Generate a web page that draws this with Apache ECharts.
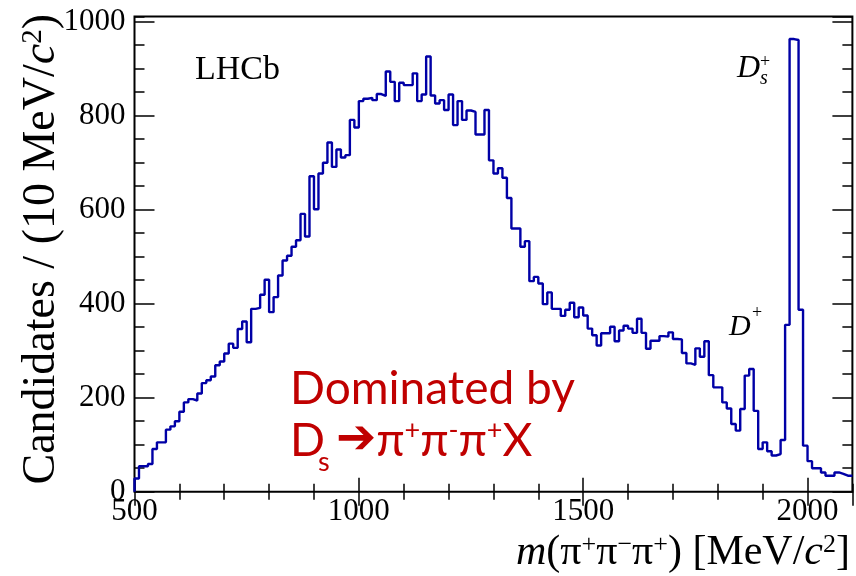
<!DOCTYPE html>
<html>
<head>
<meta charset="utf-8">
<script src="https://cdn.jsdelivr.net/npm/echarts@6/dist/echarts.min.js"></script>
<style>
html,body{margin:0;padding:0;background:#fff;}
#chart{width:856px;height:576px;}
</style>
</head>
<body>
<div id="chart"></div>
<script>
//直方图数据：每个bin 10 MeV，从500到2100
var binStart = 500;
var binWidth = 10;
var counts500to900 = [28,54,54,59,91,105,105,132,139,150,170,190,197,194,209,231,237,245,269,277,
	294,315,306,346,362,318,389,391,419,451,382,414,460,492,502,521,535,591,543,671];
var counts900to1300 = [601,677,700,743,691,728,711,716,791,775,831,836,838,833,846,842,894,872,831,870,
	865,865,890,831,845,926,843,826,833,812,845,780,831,791,811,808,760,760,812,705];
var counts1300to1700 = [677,688,668,625,560,560,521,533,448,457,443,399,424,389,389,374,387,402,371,392,
	375,347,333,311,337,337,351,320,343,353,347,338,368,338,304,321,321,331,330,339];
var counts1700to2100 = [325,324,295,273,270,305,287,320,248,222,222,190,177,144,130,176,247,261,172,91,
	105,86,77,80,110,355,963,961,387,98,65,50,50,41,34,34,41,38,34,34];
//坐标轴范围
var xMin = 500, xMax = 2100;
var yMin = 0, yMax = 1011;

var counts = counts500to900.concat(counts900to1300, counts1300to1700, counts1700to2100);
//阶梯线的点：bin下边界 + 数值
var steps = [[binStart, 0]];
counts.forEach(function(v, i){
	steps.push([binStart + i * binWidth, v]);
});
steps.push([binStart + counts.length * binWidth, counts[counts.length - 1]]);

var serif = '"Liberation Serif","Times New Roman",serif';
var tickStyle = {color:'#000', width:1.5};

//生成坐标轴（主刻度/次刻度，上下左右镜像）
function makeAxis(pos, min, max, interval, len, label){
	return {
		type:'value', position:pos, min:min, max:max, interval:interval,
		axisLine:{show:false},
		splitLine:{show:false},
		axisTick:{show:true, inside:true, length:len, lineStyle:tickStyle},
		axisLabel:{show:label, showMaxLabel:false, color:'#000', fontFamily:serif, fontSize:31,
			margin:(pos == 'bottom' ? 5 : 9),
			formatter:function(v){ return String(v); }}
	};
}

var chart = echarts.init(document.getElementById('chart'));
chart.setOption({
	animation:false,
	backgroundColor:'#fff',
	grid:{left:134.5, right:3.6, top:16.5, bottom:84.3, show:true, borderColor:'#000', borderWidth:2,
		backgroundColor:'transparent'},
	xAxis:[
		makeAxis('bottom', xMin, xMax, 500, 14, true),
		makeAxis('bottom', xMin, xMax, 100, 8, false),
		makeAxis('top', xMin, xMax, 500, 14, false),
		makeAxis('top', xMin, xMax, 100, 8, false)
	],
	yAxis:[
		makeAxis('left', yMin, yMax, 200, 20, true),
		makeAxis('left', yMin, yMax, 50, 10, false),
		makeAxis('right', yMin, yMax, 200, 20, false),
		makeAxis('right', yMin, yMax, 50, 10, false)
	],
	series:[{
		type:'line',
		step:'end',
		xAxisIndex:0,
		yAxisIndex:0,
		data:steps,
		showSymbol:false,
		symbol:'none',
		lineStyle:{color:'#0000a6', width:2.4},
		z:5
	}],
	graphic:[
		//y轴标题
		{type:'text', x:42, y:14, rotation:Math.PI/2,
			style:{text:'{n|Candidates / (10 MeV/}{i|c}{s|2}{n|)}', align:'right', verticalAlign:'middle', fill:'#000',
				rich:{n:{fontFamily:serif, fontSize:46}, i:{fontFamily:serif, fontSize:46, fontStyle:'italic'},
					s:{fontFamily:serif, fontSize:29, verticalAlign:'top', lineHeight:33}}}},
		//x轴标题
		{type:'text', x:850, y:553,
			style:{text:'{i|m}{n|(π}{s|+}{n|π}{s|−}{n|π}{s|+}{n|) [MeV/}{i|c}{s|2}{n|]}', align:'right', verticalAlign:'middle', fill:'#000',
				rich:{n:{fontFamily:serif, fontSize:42}, i:{fontFamily:serif, fontSize:42, fontStyle:'italic'},
					s:{fontFamily:serif, fontSize:26, verticalAlign:'top', lineHeight:30}}}},
		{type:'text', x:195, y:70, style:{text:'LHCb', font:'34px ' + serif, fill:'#000', verticalAlign:'middle'}},
		//峰的标注
		{type:'text', x:737, y:69, style:{text:'D', font:'italic 32px ' + serif, fill:'#000', verticalAlign:'middle'}},
		{type:'text', x:760, y:62, style:{text:'+', font:'18px ' + serif, fill:'#000', verticalAlign:'middle'}},
		{type:'text', x:760, y:79, style:{text:'s', font:'italic 20px ' + serif, fill:'#000', verticalAlign:'middle'}},
		{type:'text', x:729, y:327, style:{text:'D', font:'italic 30px ' + serif, fill:'#000', verticalAlign:'middle'}},
		{type:'text', x:752, y:313, style:{text:'+', font:'18px ' + serif, fill:'#000', verticalAlign:'middle'}},
		//红色说明文字
		{type:'text', x:290, y:389, style:{text:'Dominated by', font:'46px Lato', fill:'#c00000', verticalAlign:'middle'}},
		{type:'text', x:290, y:441, style:{text:'D', font:'46px Lato', fill:'#c00000', verticalAlign:'middle'}},
		{type:'text', x:318, y:462, style:{text:'s', font:'27px Lato', fill:'#c00000', verticalAlign:'middle'}},
		{type:'text', x:336, y:441,
			style:{text:'{a|➔}{n|π}{s|+}{n|π}{s|-}{n|π}{s|+}{n|X}', verticalAlign:'middle', fill:'#c00000',
				rich:{n:{fontFamily:'Lato', fontSize:46}, a:{fontFamily:'"DejaVu Sans"', fontSize:48},
					s:{fontFamily:'Lato', fontSize:27, verticalAlign:'top', lineHeight:31}}}}
	]
});
</script>
</body>
</html>
